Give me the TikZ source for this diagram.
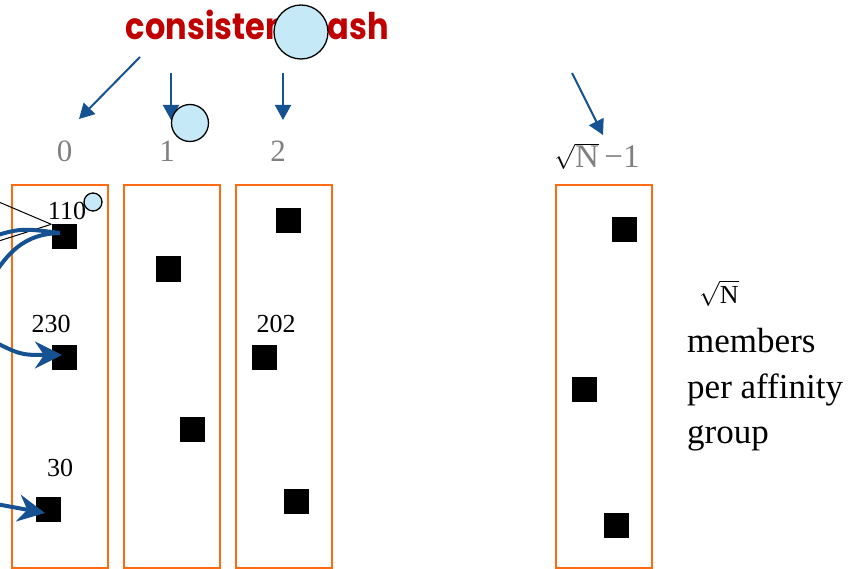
\documentclass[tikz,border=0pt]{standalone}
\usepackage{fontspec}
\setmainfont{Liberation Serif}
\newfontfamily\titlefont{Poppins}
\usetikzlibrary{arrows.meta}
\definecolor{hashred}{RGB}{192,0,0}
\definecolor{linkblue}{RGB}{22,82,146}
\definecolor{groupedge}{RGB}{255,106,19}
\definecolor{bubblefill}{RGB}{198,233,248}
\definecolor{slotgray}{RGB}{128,128,128}

\begin{document}
\begin{tikzpicture}[x=1pt,y=-1pt,
  group/.style={draw=groupedge, line width=2pt, minimum width=96pt, minimum height=383pt, inner sep=0pt},
  member/.style={fill=black, minimum size=25pt, inner sep=0pt},
  bubble/.style={circle, draw=black, line width=1.3pt, fill=bubblefill, inner sep=0pt},
  slotlabel/.style={text=slotgray, font=\fontsize{31}{31}\selectfont, anchor=base, inner sep=0pt},
  idlabel/.style={font=\fontsize{26}{26}\selectfont, anchor=base, inner sep=0pt},
  sidetext/.style={font=\fontsize{35}{35}\selectfont, anchor=base west, inner sep=0pt},
  hasharrow/.style={draw=linkblue, line width=2pt, -{Triangle[length=15pt,width=16pt]}},
  route/.style={draw=linkblue, line width=4pt},
  routearrow/.style={route, -{Stealth[length=27pt,width=27pt,inset=9pt]}},
  fan/.style={draw=black, line width=1pt}]

\useasboundingbox (0,0) rectangle (864,569);
\clip (0,0) rectangle (864,569);

% affinity groups
\node[group] (g0) at (60,376.5) {};
\node[group] (g1) at (172,376.5) {};
\node[group] (g2) at (284,376.5) {};
\node[group] (gl) at (604,376.5) {};

% group members
\node[member] (s110) at (64,237) {};
\node[member] (s230) at (64,357) {};
\node[member] (s30)  at (48,509) {};
\node[member] (m1a) at (168,269) {};
\node[member] (m1b) at (192,429) {};
\node[member] (m2a) at (288,221) {};
\node[member] (s202) at (264,357) {};
\node[member] (m2c) at (296,501) {};
\node[member] (mla) at (624,229.5) {};
\node[member] (mlb) at (584,389) {};
\node[member] (mlc) at (616,525) {};

% member ids
\node[idlabel] (l110) at (67,220) {110};
\node[idlabel] (l230) at (51,332) {230};
\node[idlabel] (l30)  at (60,476.5) {30};
\node[idlabel] (l202) at (276,332.5) {202};

% group indices
\node[slotlabel] (i0) at (64.5,162) {0};
\node[slotlabel] (i1) at (167,162) {1};
\node[slotlabel] (i2) at (278,162) {2};
\node[slotlabel, font=\fontsize{33}{33}\selectfont] (il) at (597,168) {\textcolor{black}{$\sqrt{\hbox{\color{slotgray}N}}$}\,−1};

% side note
\node[sidetext, font=\fontsize{26}{26}\selectfont] (nroot) at (699,303) {$\sqrt{\hbox{N}}$};
\node[sidetext] (t1) at (687,352) {members};
\node[sidetext] (t2) at (687,398) {per affinity};
\node[sidetext] (t3) at (687,443) {group};

% fan of thin lines into member 110
\coordinate (fanA) at (-20,194);
\coordinate (fanB) at (-20,247);
\draw[fan] (fanA) -- (s110.north west);
\draw[fan] (fanB) -- (s110.north west);

% routed requests
\coordinate (hitA) at (60,233);
\coordinate (srcA) at (-15,239);
\coordinate (srcB) at (-20,300);
\coordinate (srcC) at (-15,337);
\coordinate (srcD) at (-15,502);
\draw[route] (srcA) .. controls (20,228) .. (hitA);
\draw[route] (srcB) .. controls (5,250) and (25,234) .. (hitA);
\draw[routearrow] (srcC) .. controls (20,355) .. ([xshift=-2pt,yshift=2pt]s230.center);
\draw[routearrow] (srcD) -- ([xshift=-3pt,yshift=-4pt]s30.center);

% hash arrows
\coordinate (h0) at (140,57);
\coordinate (h1) at (171,73);
\coordinate (h2) at (283,73);
\coordinate (hl) at (572,73);
\coordinate (t0) at (79,119);
\coordinate (t1) at (171,120);
\coordinate (t2) at (283,120);
\coordinate (tl) at (603,135);
\draw[hasharrow] (h0) -- (t0);
\draw[hasharrow] (h1) -- (t1);
\draw[hasharrow] (h2) -- (t2);
\draw[hasharrow] (hl) -- (tl);

% bubbles
\node[bubble, minimum size=37pt] (b1) at (190,123) {};
\node[bubble, minimum size=18pt] (b0) at (93,202) {};

% title
\node[anchor=base, inner sep=0pt, text=hashred, font=\titlefont\bfseries\fontsize{32}{32}\selectfont] (title) at (257.5,40) {\scalebox{1}[1.15]{consistent hash}};
\node[bubble, minimum size=54pt] (bt) at (301,32) {};
\end{tikzpicture}
\end{document}
